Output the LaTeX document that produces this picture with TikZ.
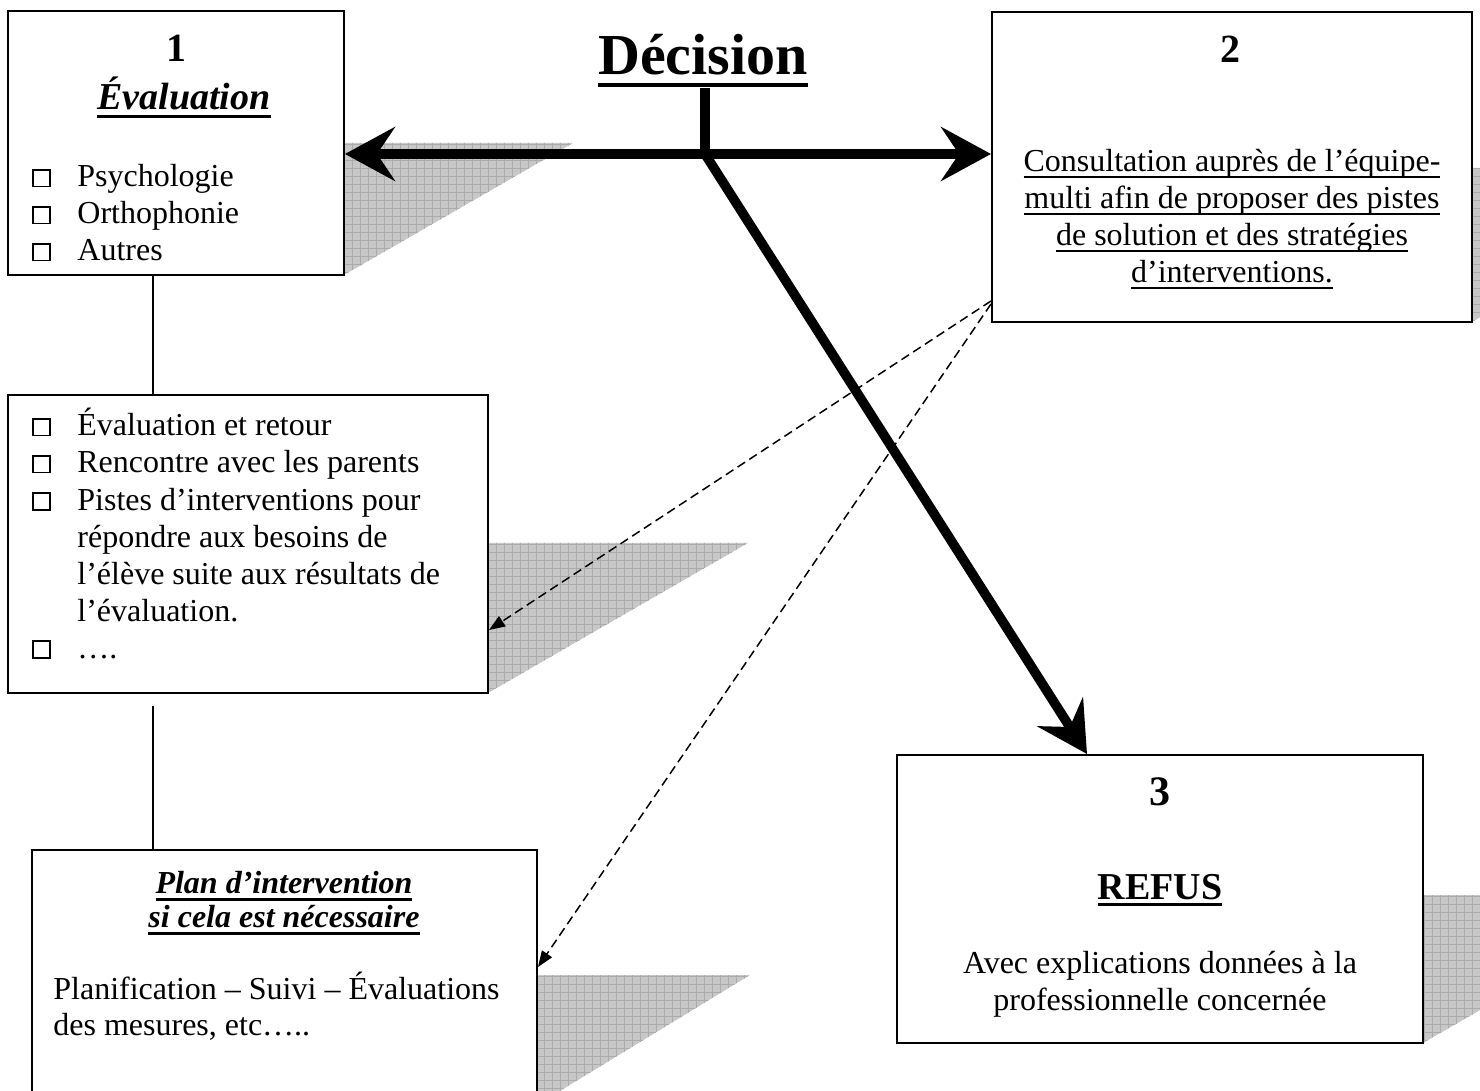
\documentclass[tikz,border=0pt]{standalone}
\usepackage{fontspec}
\setmainfont{Liberation Serif}
\usetikzlibrary{arrows.meta,fit}
\newcommand\ulx[3]{\setbox0=\hbox{#3}\leavevmode\rlap{\vrule height\dimexpr-#1\relax depth\dimexpr#1+#2\relax width\wd0}\box0}
\newcommand\cbx{\makebox[22.5pt][l]{\raisebox{0.6pt}{\fboxsep=0pt\fboxrule=0.85pt\fbox{\rule{0pt}{7.6pt}\rule{7.6pt}{0pt}}}}}
\newcommand\shadowtri[3]{\begin{scope}
  \clip #1 -- #2 -- #3 -- cycle;
  \fill[gray!44] #1 -- #2 -- #3 -- cycle;
  \draw[gray!66, line width=0.35pt, step=4pt] (0,1200) grid (1800,0);
\end{scope}}
\tikzset{
  box/.style={draw, line width=1pt, inner sep=0pt, fill=white},
  txt/.style={inner sep=0pt, font=\fontsize{16}{18.5}\selectfont},
  bigarrow/.style={line width=4.8pt, -{Stealth[length=25pt,width=27pt,inset=9pt]}},
  dasharrow/.style={line width=0.75pt, dash pattern=on 4.5pt off 2.5pt, -{Triangle[length=8pt,width=6pt]}},
  link/.style={line width=0.7pt},
}
\begin{document}
\begin{tikzpicture}[x=0.5pt,y=-0.5pt]
\useasboundingbox (0,0) rectangle (1480,1091);
\clip (0,0) rectangle (1480,1091);
% shadows
\shadowtri{(344,143)}{(573,143)}{(344,275)}
\shadowtri{(488,543)}{(748,543)}{(488,693)}
\shadowtri{(537,975)}{(750,975)}{(537,1105)}
\shadowtri{(1472,168)}{(1740,168)}{(1472,322)}
\shadowtri{(1423,895)}{(1680,895)}{(1423,1043)}
% boxes
\node[box, fit={(8,11) (344,275)}] (b1) {};
\node[box, fit={(8,395) (488,693)}] (bm) {};
\node[box, fit={(32,850) (537,1120)}] (b4) {};
\node[box, fit={(992,12) (1472,322)}] (b2) {};
\node[box, fit={(897,755) (1423,1043)}] (b3) {};
% title
\node[txt, font=\fontsize{29}{33}\selectfont\bfseries, anchor=base] (dec) at (703,75) {\ulx{4pt}{2.2pt}{Décision}};
\coordinate (jn) at (705,154);
% connectors
\draw[line width=4.6pt] (jn |- dec.south) -- (jn);
\draw[bigarrow] (jn) -- (jn -| b1.east);
\draw[bigarrow] (jn) -- (jn -| b2.west);
\draw[bigarrow] (jn) -- ([xshift=-36.5pt]b3.north);
\draw[dasharrow] ([yshift=11pt]b2.south west) -- ([yshift=-43pt]bm.east);
\draw[dasharrow] ([yshift=9.5pt]b2.south west) -- ([yshift=-59pt]b4.north east);
\draw[link] ([xshift=-11.5pt]b1.south) -- ([xshift=-47.5pt]bm.north);
\draw[link] ([xshift=-47.5pt,yshift=-6pt]bm.south) -- ([xshift=-65.75pt]b4.north);
% box 1 text
\node[txt, font=\fontsize{20}{23}\selectfont\bfseries, anchor=base] (n1) at (176,62) {1};
\node[txt, font=\fontsize{19}{22}\selectfont\bfseries\itshape, anchor=base] (t1) at (184,110) {\ulx{2.5pt}{1.5pt}{Évaluation}};
\foreach \t [count=\i from 0] in {Psychologie,Orthophonie,Autres}
  \node[txt, anchor=base west] (b1l\i) at (32,{187+37*\i}) {\cbx\t};
% middle box text
\node[txt, anchor=base west] (m1) at (32,436) {\cbx Évaluation et retour};
\node[txt, anchor=base west] (m2) at (32,473) {\cbx Rencontre avec les parents};
\node[txt, anchor=base west] (m3) at (32,510) {\cbx Pistes d’interventions pour};
\node[txt, anchor=base west] (m4) at (77,547) {répondre aux besoins de};
\node[txt, anchor=base west] (m5) at (77,584) {l’élève suite aux résultats de};
\node[txt, anchor=base west] (m6) at (77,621) {l’évaluation.};
\node[txt, anchor=base west] (m7) at (32,658) {\cbx ….};
% box 4 text
\node[txt, font=\fontsize{16}{18.5}\selectfont\bfseries\itshape, anchor=base] (p1) at (284,893) {\ulx{2.5pt}{1.5pt}{Plan d’intervention}};
\node[txt, font=\fontsize{16}{18.5}\selectfont\bfseries\itshape, anchor=base] (p2) at (284,927) {\ulx{2.5pt}{1.5pt}{si cela est nécessaire}};
\node[txt, anchor=base west] (p3) at (53,999) {Planification – Suivi – Évaluations};
\node[txt, anchor=base west] (p4) at (53,1035) {des mesures, etc…..};
% box 2 text
\node[txt, font=\fontsize{20}{23}\selectfont\bfseries, anchor=base] (n2) at (1230,63) {2};
\node[txt, anchor=base] (c1) at (1232,172) {\ulx{2.2pt}{0.8pt}{Consultation auprès de l’équipe-}};
\node[txt, anchor=base] (c2) at (1232,209) {\ulx{2.2pt}{0.8pt}{multi afin de proposer des pistes}};
\node[txt, anchor=base] (c3) at (1232,246) {\ulx{2.2pt}{0.8pt}{de solution et des stratégies}};
\node[txt, anchor=base] (c4) at (1232,283) {\ulx{2.2pt}{0.8pt}{d’interventions.}};
% box 3 text
\node[txt, font=\fontsize{21}{24}\selectfont\bfseries, anchor=base] (n3) at (1160,805) {3};
\node[txt, font=\fontsize{19}{22}\selectfont\bfseries, anchor=base] (r1) at (1160,899) {\ulx{2pt}{1.5pt}{REFUS}};
\node[txt, anchor=base] (r2) at (1160,973) {Avec explications données à la};
\node[txt, anchor=base] (r3) at (1160,1010) {professionnelle concernée};
\end{tikzpicture}
\end{document}
